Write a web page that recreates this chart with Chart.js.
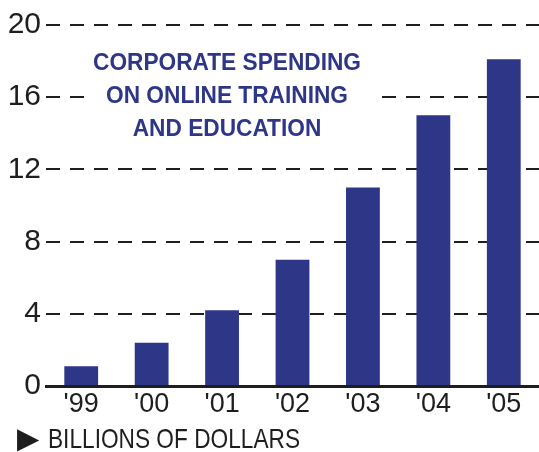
<!DOCTYPE html>
<html>
<head>
<meta charset="utf-8">
<script src="https://cdn.jsdelivr.net/npm/chart.js@4"></script>
<style>
  html, body { margin: 0; padding: 0; background: #fff; }
  #wrap { width: 539px; height: 452px; }
</style>
</head>
<body>
<div id="wrap"><canvas id="chart" width="539" height="452"></canvas></div>
<script>
// values (billions of dollars)
const years = ["'99", "'00", "'01", "'02", "'03", "'04", "'05"];
const spending = [1.1, 2.4, 4.2, 7.0, 11.0, 15.0, 18.1];
const yTicks = [0, 4, 8, 12, 16, 20];
const titleLines = ['CORPORATE SPENDING', 'ON ONLINE TRAINING', 'AND EDUCATION'];
const unitLabel = 'BILLIONS OF DOLLARS';

const SANS = '"Liberation Sans", Arial, sans-serif';
const NAVY = '#2e3688';
const INK = '#1e1e1e';

// draw text squeezed horizontally to mimic the narrow face of the original
function narrowText(ctx, text, x, y, squeeze) {
    ctx.save();
    ctx.translate(x, y);
    ctx.scale(squeeze, 1);
    ctx.fillText(text, 0, 0);
    ctx.restore();
}

// title block inside the plot (white behind it breaks the grid) + unit note
const extraText = {
    id: 'extraText',
    afterDraw(chart) {
        const ctx = chart.ctx;
        const area = chart.chartArea;
        ctx.save();
        ctx.fillStyle = '#fff';
        ctx.fillRect(area.left + 38, area.top + 20, 292, 98);

        ctx.fillStyle = NAVY;
        ctx.font = 'bold 24px ' + SANS;
        ctx.textAlign = 'center';
        ctx.textBaseline = 'alphabetic';
        const sq = 268 / ctx.measureText(titleLines[0]).width;
        titleLines.forEach((line, i) => {
            narrowText(ctx, line, area.left + 181, area.top + 45 + i * 33, sq);
        });

        // unit note under the axis
        ctx.fillStyle = INK;
        ctx.textAlign = 'left';
        ctx.font = '28px ' + SANS;
        const sq2 = 252 / ctx.measureText(unitLabel).width;
        narrowText(ctx, unitLabel, 48, 448, sq2);
        ctx.font = '29px "DejaVu Sans", sans-serif';
        narrowText(ctx, '\u25B6', 17, 448, 1.0);
        ctx.restore();
    }
};

new Chart(document.getElementById('chart'), {
    type: 'bar',
    data: {
        labels: years,
        datasets: [{
            data: spending,
            backgroundColor: NAVY,
            borderWidth: 0,
            barPercentage: 0.48,
            categoryPercentage: 1
        }]
    },
    options: {
        responsive: false,
        animation: false,
        layout: { padding: { left: 0, right: 0, top: 25, bottom: 37 } },
        scales: {
            y: {
                min: 0,
                max: 20,
                afterBuildTicks: (scale) => {
                    scale.ticks = yTicks.map(v => ({ value: v }));
                },
                afterFit: (scale) => { scale.width = 46; },
                ticks: {
                    color: INK,
                    padding: 5,
                    font: { family: SANS, size: 30, lineHeight: 1 }
                },
                grid: { color: INK, lineWidth: 2, drawTicks: false },
                border: { display: false, dash: [14, 10] }
            },
            x: {
                grid: { display: false },
                border: { display: true, color: INK, width: 3 },
                ticks: {
                    color: INK,
                    padding: -3,
                    font: { family: SANS, size: 27, lineHeight: 1 }
                }
            }
        },
        plugins: {
            legend: { display: false },
            tooltip: { enabled: false },
            title: { display: false }
        }
    },
    plugins: [extraText]
});
</script>
</body>
</html>
